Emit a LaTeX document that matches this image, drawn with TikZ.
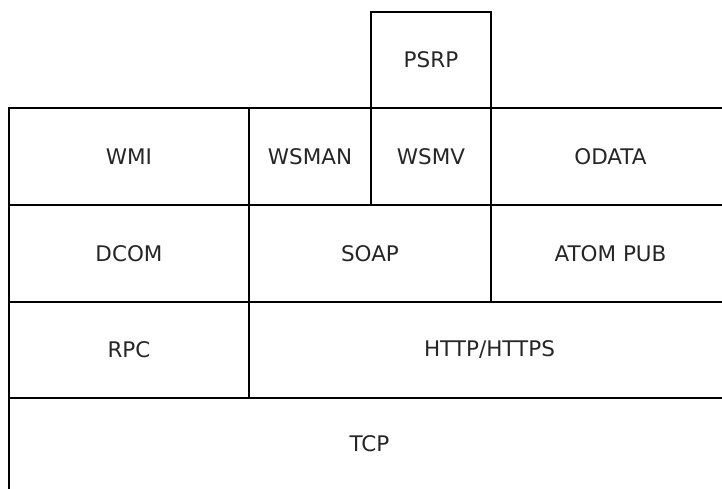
\documentclass[tikz,border=0pt]{standalone}
\usepackage{fontspec}
\setmainfont{DejaVu Sans}
\begin{document}
\begin{tikzpicture}[x=1pt,y=-1pt,
  cell/.style={draw=black, line width=1.4pt, rectangle, inner sep=0pt,
    text=black!85, font=\fontsize{21.5}{25}\selectfont}]
\useasboundingbox (0,0) rectangle (722,489);
\clip (0,0) rectangle (722,489);
% helper: cell from (x1,y1) to (x2,y2)
\newcommand{\mycell}[6]{%
  \node[cell, minimum width={(#4-#2)*1pt}, minimum height={(#5-#3)*1pt}]
    (#1) at ({(#2+#4)/2},{(#3+#5)/2}) {#6};}
\mycell{psrp}{371}{12}{491}{108}{PSRP}
\mycell{wmi}{9}{108}{249}{205}{WMI}
\mycell{wsman}{249}{108}{371}{205}{WSMAN}
\mycell{wsmv}{371}{108}{491}{205}{WSMV}
\mycell{odata}{491}{108}{730}{205}{ODATA}
\mycell{dcom}{9}{205}{249}{302}{DCOM}
\mycell{soap}{249}{205}{491}{302}{SOAP}
\mycell{atom}{491}{205}{730}{302}{ATOM PUB}
\mycell{rpc}{9}{302}{249}{398}{RPC}
\mycell{http}{249}{302}{730}{398}{HTTP/HTTPS}
\mycell{tcp}{9}{398}{730}{493}{\raisebox{3pt}{TCP}}
\end{tikzpicture}
\end{document}
